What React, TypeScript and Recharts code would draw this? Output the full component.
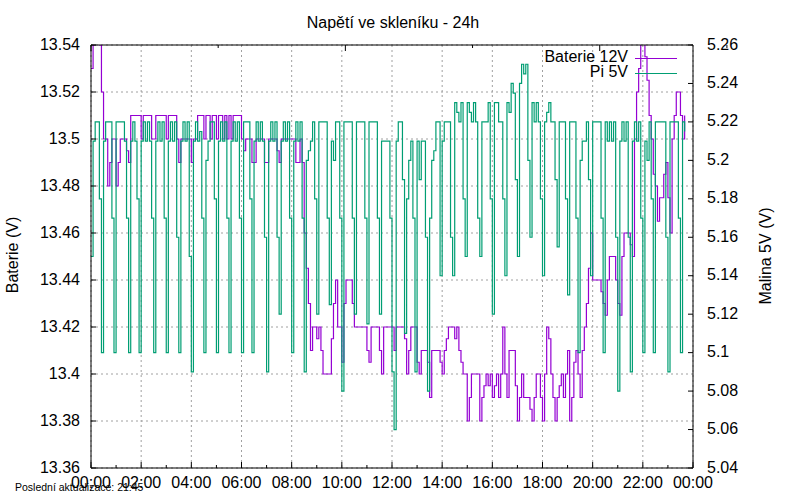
import { LineChart, Line, XAxis, YAxis, CartesianGrid, Legend } from 'recharts';

// samples every 5 minutes, 00:00 .. 23:40
const SAMPLE_MINUTES = 5;

const X_TICKS = [0, 120, 240, 360, 480, 600, 720, 840, 960, 1080, 1200, 1320, 1440];
const X_TICK_LABELS = ['00:00', '02:00', '04:00', '06:00', '08:00', '10:00', '12:00', '14:00', '16:00', '18:00', '20:00', '22:00', '00:00'];
const X_MINOR_TICKS = [60, 180, 300, 420, 540, 660, 780, 900, 1020, 1140, 1260, 1380];
const LEFT_TICKS = [13.36, 13.38, 13.4, 13.42, 13.44, 13.46, 13.48, 13.5, 13.52, 13.54];
const RIGHT_TICKS = [5.04, 5.06, 5.08, 5.1, 5.12, 5.14, 5.16, 5.18, 5.2, 5.22, 5.24, 5.26];

const BATERIE = [
  13.53, 13.54, 13.55, 13.55, 13.54, 13.52, 13.5, 13.5, 13.48, 13.49, 13.5, 13.5,
  13.48, 13.49, 13.5, 13.5, 13.5, 13.495, 13.49, 13.51, 13.51, 13.51, 13.51, 13.51,
  13.5, 13.51, 13.51, 13.51, 13.51, 13.5, 13.5, 13.51, 13.51, 13.51, 13.51, 13.51,
  13.5, 13.51, 13.51, 13.51, 13.51, 13.5, 13.49, 13.5, 13.5, 13.5, 13.5, 13.5,
  13.49, 13.5, 13.5, 13.51, 13.51, 13.51, 13.5, 13.51, 13.51, 13.5, 13.51, 13.51,
  13.5, 13.51, 13.51, 13.5, 13.51, 13.5, 13.51, 13.5, 13.51, 13.51, 13.51, 13.51,
  13.5, 13.495, 13.5, 13.5, 13.5, 13.49, 13.49, 13.5, 13.5, 13.5, 13.5,
  13.49, 13.49, 13.5, 13.5, 13.5, 13.5, 13.495, 13.49, 13.5, 13.5, 13.5, 13.5,
  13.5, 13.5, 13.5, 13.49, 13.49, 13.5, 13.49, 13.46, 13.445, 13.43, 13.41, 13.42,
  13.42, 13.415, 13.42, 13.41, 13.4, 13.4, 13.4, 13.4, 13.415, 13.43, 13.44, 13.42,
  13.42, 13.405, 13.43, 13.44, 13.44, 13.44, 13.43, 13.42, 13.42, 13.42, 13.42, 13.42,
  13.42, 13.41, 13.405, 13.42, 13.42, 13.42, 13.42, 13.41, 13.4, 13.42, 13.42, 13.42,
  13.42, 13.42, 13.41, 13.42, 13.42, 13.42, 13.42, 13.415, 13.4, 13.41, 13.42,
  13.42, 13.42, 13.405, 13.4, 13.41, 13.41, 13.41, 13.405, 13.39, 13.41, 13.41, 13.41,
  13.41, 13.405, 13.4, 13.41, 13.415, 13.42, 13.42, 13.42, 13.415, 13.42, 13.41, 13.405,
  13.4, 13.4, 13.38, 13.39, 13.4, 13.4, 13.4, 13.4, 13.38, 13.39, 13.395, 13.4,
  13.395, 13.4, 13.39, 13.395, 13.4, 13.39, 13.4, 13.42, 13.4, 13.39, 13.41, 13.41,
  13.41, 13.395, 13.38, 13.39, 13.4, 13.39, 13.39, 13.39, 13.385, 13.38, 13.39, 13.4,
  13.4, 13.39, 13.38, 13.4, 13.42, 13.415, 13.4, 13.39, 13.38, 13.39, 13.395, 13.4,
  13.39, 13.4, 13.41, 13.38, 13.39, 13.405, 13.41, 13.4, 13.39, 13.41, 13.42,
  13.43, 13.445, 13.46, 13.44, 13.44, 13.44, 13.44, 13.435, 13.43, 13.425, 13.44, 13.45,
  13.45, 13.45, 13.44, 13.43, 13.425, 13.45, 13.46, 13.46, 13.46, 13.455, 13.45, 13.5,
  13.52, 13.53, 13.55, 13.55, 13.535, 13.525, 13.51, 13.5, 13.485, 13.48, 13.465, 13.475,
  13.475, 13.485, 13.49, 13.475, 13.46, 13.5, 13.51, 13.52, 13.52, 13.51, 13.5, 13.51,
];

const PI = [
  5.15, 5.21, 5.22, 5.22, 5.18, 5.1, 5.21, 5.22, 5.22, 5.22, 5.17, 5.1,
  5.22, 5.22, 5.22, 5.22, 5.21, 5.17, 5.1, 5.21, 5.22, 5.21, 5.18, 5.1,
  5.21, 5.22, 5.21, 5.22, 5.21, 5.17, 5.1, 5.21, 5.22, 5.21, 5.22, 5.17,
  5.1, 5.21, 5.22, 5.21, 5.22, 5.16, 5.1, 5.21, 5.22, 5.21, 5.22, 5.15,
  5.09, 5.21, 5.22, 5.21, 5.215, 5.17, 5.1, 5.2, 5.21, 5.22, 5.22, 5.18,
  5.1, 5.21, 5.22, 5.21, 5.22, 5.17, 5.1, 5.21, 5.22, 5.21, 5.22, 5.17,
  5.1, 5.22, 5.22, 5.22, 5.18, 5.1, 5.21, 5.22, 5.21, 5.22, 5.21,
  5.16, 5.09, 5.21, 5.22, 5.21, 5.22, 5.16, 5.12, 5.21, 5.22, 5.21, 5.22,
  5.17, 5.1, 5.21, 5.22, 5.21, 5.22, 5.17, 5.09, 5.2, 5.205, 5.21, 5.22,
  5.18, 5.12, 5.22, 5.22, 5.22, 5.22, 5.17, 5.125, 5.21, 5.2, 5.22, 5.22,
  5.17, 5.08, 5.22, 5.22, 5.22, 5.22, 5.17, 5.12, 5.22, 5.22, 5.22, 5.22,
  5.17, 5.115, 5.22, 5.22, 5.22, 5.22, 5.17, 5.12, 5.21, 5.21, 5.21, 5.21,
  5.17, 5.09, 5.06, 5.21, 5.22, 5.22, 5.19, 5.11, 5.18, 5.2, 5.21,
  5.17, 5.09, 5.21, 5.19, 5.21, 5.21, 5.16, 5.08, 5.17, 5.2, 5.205, 5.22,
  5.22, 5.14, 5.21, 5.22, 5.22, 5.22, 5.16, 5.14, 5.23, 5.225, 5.22, 5.23,
  5.18, 5.15, 5.23, 5.225, 5.22, 5.23, 5.22, 5.17, 5.15, 5.22, 5.22, 5.22,
  5.23, 5.18, 5.12, 5.23, 5.23, 5.22, 5.22, 5.18, 5.14, 5.23, 5.225, 5.24,
  5.235, 5.19, 5.15, 5.24, 5.25, 5.245, 5.25, 5.2, 5.16, 5.23, 5.22, 5.23,
  5.22, 5.18, 5.14, 5.22, 5.225, 5.23, 5.22, 5.22, 5.19, 5.155, 5.22, 5.22,
  5.22, 5.18, 5.13, 5.22, 5.22, 5.22, 5.17, 5.1, 5.2, 5.21, 5.21,
  5.22, 5.19, 5.14, 5.22, 5.22, 5.22, 5.22, 5.17, 5.1, 5.22, 5.21, 5.22,
  5.21, 5.22, 5.16, 5.08, 5.21, 5.22, 5.21, 5.22, 5.16, 5.09, 5.21, 5.22,
  5.21, 5.22, 5.17, 5.1, 5.21, 5.2, 5.22, 5.18, 5.1, 5.22, 5.22, 5.22,
  5.22, 5.22, 5.16, 5.09, 5.22, 5.22, 5.22, 5.22, 5.17, 5.1, 5.22, 5.215,
];

const data = BATERIE.map((v, i) => ({ t: i * SAMPLE_MINUTES, baterie: v, pi: PI[i] }));
const ALL_X_TICKS = [...X_TICKS, ...X_MINOR_TICKS].sort((a, b) => a - b);

const FONT = '"Liberation Sans", Arial, sans-serif';
const PURPLE = '#9400d3';
const TEAL = '#009e73';

function BottomTick(props: any) {
  const { x, y, payload } = props;
  const idx = X_TICKS.indexOf(payload.value);
  return (
    <g>
      <line x1={x} x2={x} y1={y} y2={y - (idx >= 0 ? 6 : 3)} stroke="#000" />
      {idx >= 0 && (
        <text x={x} y={y + 20} textAnchor="middle" fontSize={16} fontFamily={FONT} fill="#000">
          {X_TICK_LABELS[idx]}
        </text>
      )}
    </g>
  );
}

function TopTick(props: any) {
  const { x, y, payload } = props;
  const major = X_TICKS.includes(payload.value);
  return <line x1={x} x2={x} y1={y} y2={y + (major ? 6 : 3)} stroke="#000" />;
}

function LeftTick(props: any) {
  const { x, y, payload } = props;
  return (
    <g>
      <line x1={x} x2={x + 5} y1={y} y2={y} stroke="#000" />
      <text x={x - 11} y={y + 5} textAnchor="end" fontSize={16} fontFamily={FONT} fill="#000">
        {String(payload.value)}
      </text>
    </g>
  );
}

function RightTick(props: any) {
  const { x, y, payload } = props;
  return (
    <g>
      <line x1={x} x2={x - 5} y1={y} y2={y} stroke="#000" />
      <text x={x + 14} y={y + 4.5} textAnchor="start" fontSize={16} fontFamily={FONT} fill="#000">
        {String(payload.value)}
      </text>
    </g>
  );
}

function KeyBox(props: any) {
  const items = props.payload || [];
  return (
    <svg width={240} height={40} style={{ overflow: 'visible' }}>
      {items.map((it: any, k: number) => (
        <g key={it.value}>
          <text x={178} y={18 + 15 * k} textAnchor="end" fontSize={16} fontFamily={FONT} fill="#000">
            {it.value}
          </text>
          <line x1={185} x2={227} y1={14.5 + 15 * k} y2={14.5 + 15 * k} stroke={it.color} strokeWidth={1.2} />
        </g>
      ))}
    </svg>
  );
}

export default function App() {
  return (
    <div style={{ position: 'absolute', left: 0, top: 0, width: 800, height: 500, background: '#fff' }}>
      <LineChart width={800} height={500} data={data} margin={{ top: 44, right: 0, bottom: 0, left: 0 }}>
        <CartesianGrid
          xAxisId="x"
          yAxisId="left"
          verticalValues={X_TICKS}
          horizontalValues={LEFT_TICKS}
          stroke="#a0a0a0"
          strokeDasharray="2 3"
        />
        <XAxis
          xAxisId="x"
          dataKey="t"
          type="number"
          domain={[0, 1440]}
          ticks={ALL_X_TICKS}
          interval={0}
          allowDataOverflow
          height={32}
          tickSize={0}
          tickMargin={0}
          tickLine={false}
          axisLine={{ stroke: '#000' }}
          tick={BottomTick}
        />
        <XAxis
          xAxisId="top"
          orientation="top"
          type="number"
          domain={[0, 1440]}
          ticks={ALL_X_TICKS}
          interval={0}
          allowDataOverflow
          height={1}
          tickSize={0}
          tickMargin={0}
          tickLine={false}
          axisLine={{ stroke: '#000' }}
          tick={TopTick}
        />
        <YAxis
          yAxisId="left"
          type="number"
          domain={[13.36, 13.54]}
          ticks={LEFT_TICKS}
          interval={0}
          allowDataOverflow
          width={91}
          tickSize={0}
          tickMargin={0}
          tickLine={false}
          axisLine={{ stroke: '#000' }}
          tick={LeftTick}
        />
        <YAxis
          yAxisId="right"
          orientation="right"
          type="number"
          domain={[5.04, 5.26]}
          ticks={RIGHT_TICKS}
          interval={0}
          allowDataOverflow
          width={107}
          tickSize={0}
          tickMargin={0}
          tickLine={false}
          axisLine={{ stroke: '#000' }}
          tick={RightTick}
        />
        <Legend
          layout="vertical"
          align="center"
          verticalAlign="middle"
          wrapperStyle={{ position: 'absolute', left: 450, top: 44, width: 240, height: 40 }}
          content={KeyBox}
        />
        <Line
          xAxisId="x"
          yAxisId="left"
          type="stepAfter"
          dataKey="baterie"
          name="Baterie 12V"
          stroke={PURPLE}
          strokeWidth={1.2}
          dot={false}
          isAnimationActive={false}
        />
        <Line
          xAxisId="x"
          yAxisId="right"
          type="stepAfter"
          dataKey="pi"
          name="Pi 5V"
          stroke={TEAL}
          strokeWidth={1.2}
          dot={false}
          isAnimationActive={false}
        />
      </LineChart>
      <svg width={800} height={500} style={{ position: 'absolute', left: 0, top: 0, pointerEvents: 'none' }}>
        <text x={393} y={28} textAnchor="middle" fontSize={16} fontFamily={FONT} fill="#000">
          Napětí ve skleníku - 24h
        </text>
        <text transform="translate(17.5,255) rotate(-90)" textAnchor="middle" fontSize={16} fontFamily={FONT} fill="#000">
          Baterie (V)
        </text>
        <text transform="translate(770.5,256) rotate(-90)" textAnchor="middle" fontSize={16} fontFamily={FONT} fill="#000">
          Malina 5V (V)
        </text>
        <text x={15} y={491} fontSize={10.5} fontFamily={FONT} fill="#000">
          Poslední aktualizace: 21:45
        </text>
      </svg>
    </div>
  );
}
